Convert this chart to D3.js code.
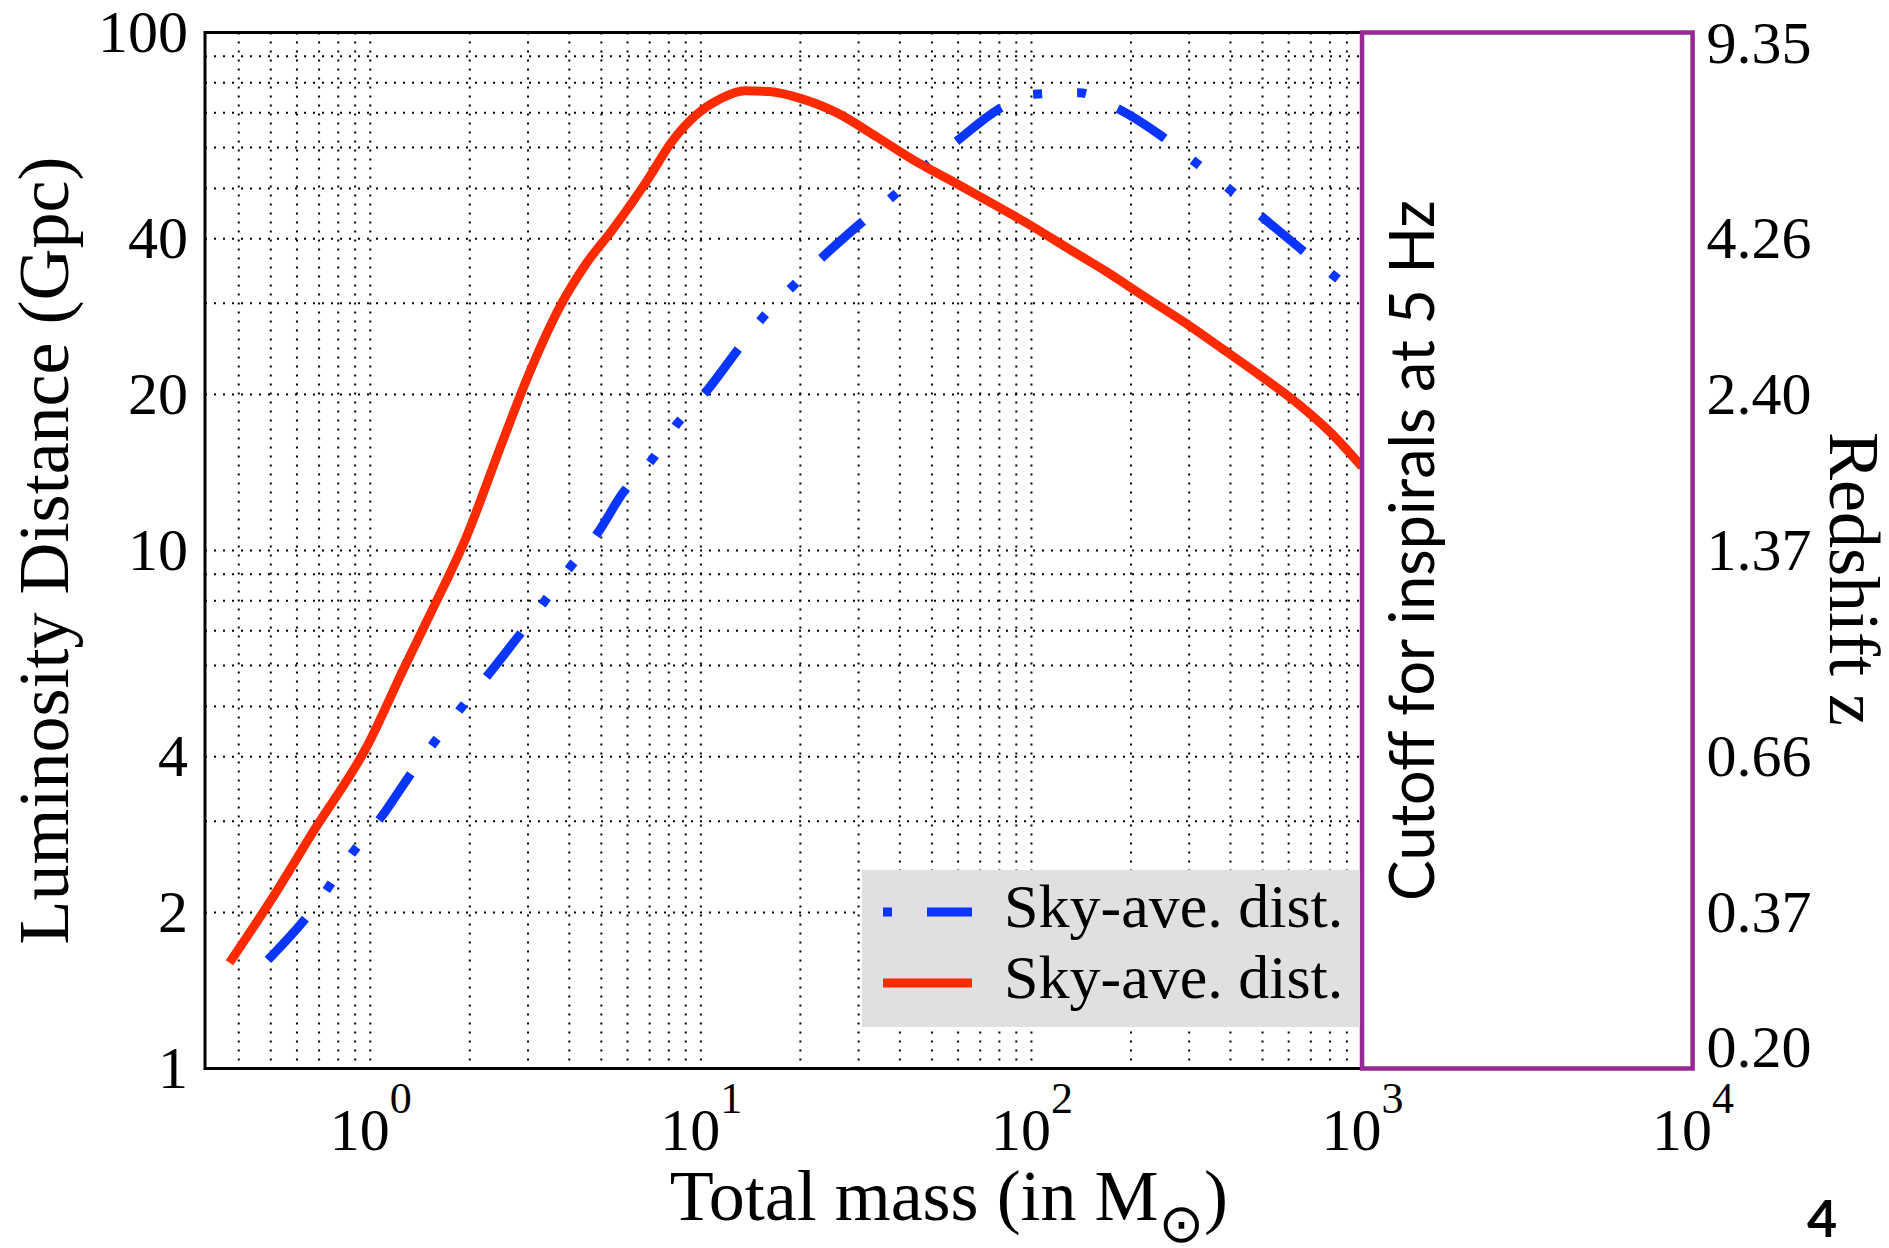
<!DOCTYPE html>
<html>
<head>
<meta charset="utf-8">
<script src="https://cdn.jsdelivr.net/npm/d3@7"></script>
<style>
  body { margin: 0; background: #fff; }
</style>
</head>
<body>
<div id="graph"></div>
<script>
// ---- data ----
const massTicks = [1, 10, 100, 1000, 10000];
const massTickExp = ["0", "1", "2", "3", "4"];
const distTicks = [1, 2, 4, 10, 20, 40, 100];
const redshiftLabels = ["0.20", "0.37", "0.66", "1.37", "2.40", "4.26", "9.35"];

// solid red curve
const redMass = [0.375, 0.5, 0.68, 0.98, 1.26, 1.52, 1.95, 2.5, 3.0, 3.75, 4.5, 5.4, 7.0, 8.1, 9.8,
  11.5, 13.6, 16.1, 20, 26, 34, 44, 58, 76, 99, 129, 169, 220, 287, 375, 490, 640, 810, 1000];
const redDist = [1.6, 2.11, 2.9, 4.2, 5.9, 7.55, 10.6, 16.1, 21.7, 29.6, 35.8, 41.6, 52.7, 61.1, 69.8,
  74.6, 77.2, 76.9, 74.6, 69.8, 62.9, 56.7, 51.5, 46.8, 42.5, 38.3, 34.5, 30.9, 27.7, 24.6, 21.8, 19.2, 16.8, 14.5];

// dash-dot blue curve
const blueMass = [0.49, 0.65, 0.9, 1.08, 1.32, 1.9, 2.28, 2.87, 4.05, 4.87, 5.8, 7.1, 8.5, 10.4, 12.8,
  15.2, 18.9, 23.4, 30, 37.7, 47, 60, 79, 101, 139, 178, 245, 307, 390, 483, 640, 800, 1000];
const blueDist = [1.62, 1.98, 2.65, 3.06, 3.69, 5.0, 5.77, 6.96, 9.34, 10.8, 12.9, 14.95, 17.6, 20.3, 24.2,
  27.9, 32.3, 36.9, 42.5, 48.0, 54.7, 62.0, 70.9, 76.0, 76.5, 71.9, 63.4, 56.7, 50.3, 44.8, 38.6, 34.4, 30.7];

const legendLabels = ["Sky-ave. dist.", "Sky-ave. dist."];
const cutoffMass = 1000;

// ---- layout ----
const W = 1889, H = 1248;
const plot = { left: 205, right: 1692.6, top: 32.5, bottom: 1068.5 };
const SERIF = "'Liberation Serif', 'Times New Roman', serif";
const SANS = "Lato, 'Open Sans', sans-serif";
const RED = "#ff2a00", BLUE = "#0a35ff", PURPLE = "#952a95";
const BLUE_DASH = "56,35,9,35,9,35";

const x = d3.scaleLog().domain([Math.pow(10, -0.5), 1e4]).range([plot.left, plot.right]);
const y = d3.scaleLog().domain([1, 100]).range([plot.bottom, plot.top]);
const xCut = x(cutoffMass);

const svg = d3.select("#graph").append("svg")
  .attr("width", W)
  .attr("height", H)
  .style("display", "block");

// minor/major grid values
const gridX = [];
[-1, 0, 1, 2].forEach(e => d3.range(1, 10).forEach(k => {
  const v = k * Math.pow(10, e);
  if (v > x.domain()[0] && v < cutoffMass) gridX.push(v);
}));
const gridY = [];
[0, 1].forEach(e => d3.range(1, 10).forEach(k => {
  const v = k * Math.pow(10, e);
  if (v > 1 && v < 100) gridY.push(v);
}));

const grid = svg.append("g")
  .attr("stroke", "#000")
  .attr("stroke-width", 2)
  .attr("stroke-dasharray", "2,7");

grid.selectAll("line.gx")
  .data(gridX)
  .enter()
  .append("line")
  .attr("class", "gx")
  .attr("x1", d => x(d)).attr("x2", d => x(d))
  .attr("y1", plot.top).attr("y2", plot.bottom);

grid.selectAll("line.gy")
  .data(gridY)
  .enter()
  .append("line")
  .attr("class", "gy")
  .attr("x1", plot.left).attr("x2", xCut)
  .attr("y1", d => y(d)).attr("y2", d => y(d));

// axes frame
svg.append("path")
  .attr("d", `M${xCut},${plot.top}H${plot.left}V${plot.bottom}H${xCut}`)
  .attr("fill", "none")
  .attr("stroke", "#000")
  .attr("stroke-width", 3);

// curves
const line = d3.line()
  .x(d => x(d[0]))
  .y(d => y(d[1]))
  .curve(d3.curveMonotoneX);

svg.append("path")
  .datum(d3.zip(blueMass, blueDist))
  .attr("d", line)
  .attr("fill", "none")
  .attr("stroke", BLUE)
  .attr("stroke-width", 9)
  .attr("stroke-dasharray", BLUE_DASH);

svg.append("path")
  .datum(d3.zip(redMass, redDist))
  .attr("d", line)
  .attr("fill", "none")
  .attr("stroke", RED)
  .attr("stroke-width", 9);

// cutoff box
svg.append("rect")
  .attr("x", xCut)
  .attr("y", plot.top)
  .attr("width", plot.right - xCut)
  .attr("height", plot.bottom - plot.top)
  .attr("fill", "#fff")
  .attr("stroke", PURPLE)
  .attr("stroke-width", 4.5);

svg.append("text")
  .attr("transform", `translate(${xCut + 72},${(plot.top + plot.bottom) / 2}) rotate(-90)`)
  .attr("text-anchor", "middle")
  .style("font-family", SANS)
  .style("font-size", "61px")
  .text("Cutoff for inspirals at 5 Hz");

// legend
const legend = svg.append("g");
legend.append("rect")
  .attr("x", 862).attr("y", 870)
  .attr("width", xCut - 2 - 862).attr("height", 157)
  .attr("fill", "#e0e0e0");

const legendRows = [
  { color: BLUE, dash: BLUE_DASH, offset: 135, y: 912 },
  { color: RED, dash: null, offset: 0, y: 983 }
];
legendRows.forEach((r, i) => {
  legend.append("line")
    .attr("x1", 883).attr("x2", 972)
    .attr("y1", r.y).attr("y2", r.y)
    .attr("stroke", r.color)
    .attr("stroke-width", 9)
    .attr("stroke-dasharray", r.dash)
    .attr("stroke-dashoffset", r.offset);
  legend.append("text")
    .attr("x", 1004)
    .attr("y", r.y + 15)
    .style("font-family", SERIF)
    .style("font-size", "62px")
    .text(legendLabels[i]);
});

// left axis
const yAxisLeft = svg.append("g")
  .attr("transform", `translate(${plot.left},0)`)
  .call(d3.axisLeft(y).tickValues(distTicks).tickSize(0).tickPadding(17).tickFormat(d3.format("d")));
yAxisLeft.select(".domain").remove();
yAxisLeft.selectAll("text")
  .style("font-family", SERIF)
  .style("font-size", "60px")
  .attr("fill", "#000");

// right axis (redshift); end labels are pulled inside the axis span
const yAxisRight = svg.append("g")
  .attr("transform", `translate(${plot.right},0)`)
  .call(d3.axisRight(y).tickValues(distTicks).tickSize(0).tickPadding(14)
    .tickFormat((d, i) => redshiftLabels[i]));
yAxisRight.select(".domain").remove();
yAxisRight.selectAll("text")
  .style("font-family", SERIF)
  .style("font-size", "60px")
  .attr("fill", "#000")
  .attr("y", (d, i) => i === 0 ? -21 : (i === distTicks.length - 1 ? 11 : 0));

// bottom axis with 10^n labels
const xAxis = svg.append("g")
  .attr("transform", `translate(0,${plot.bottom})`)
  .call(d3.axisBottom(x).tickValues(massTicks).tickSize(0).tickFormat(""));
xAxis.select(".domain").remove();
xAxis.selectAll(".tick text").each(function (d, i) {
  const t = d3.select(this)
    .attr("y", 81.5)
    .attr("dy", null)
    .attr("fill", "#000")
    .style("font-family", SERIF)
    .style("font-size", "60px");
  t.append("tspan").text("10");
  t.append("tspan")
    .attr("dy", -37)
    .style("font-size", "44px")
    .text(massTickExp[i]);
});

// axis titles
svg.append("text")
  .attr("transform", `translate(68,${(plot.top + plot.bottom) / 2}) rotate(-90)`)
  .attr("text-anchor", "middle")
  .style("font-family", SERIF)
  .style("font-size", "72px")
  .text("Luminosity Distance (Gpc)");

const xTitle = svg.append("text")
  .attr("x", (plot.left + plot.right) / 2)
  .attr("y", 1220)
  .attr("text-anchor", "middle")
  .style("font-family", SERIF)
  .style("font-size", "72px");
xTitle.append("tspan").text("Total mass (in M");
xTitle.append("tspan")
  .attr("dy", 22)
  .style("font-family", "'DejaVu Sans', sans-serif")
  .style("font-size", "54px")
  .text("\u2299");
xTitle.append("tspan")
  .attr("dy", -22)
  .text(")");

svg.append("text")
  .attr("transform", `translate(1830,579) rotate(90)`)
  .attr("text-anchor", "middle")
  .style("font-family", SERIF)
  .style("font-size", "72px")
  .text("Redshift z");

// page number
svg.append("text")
  .attr("x", 1822)
  .attr("y", 1237)
  .attr("text-anchor", "middle")
  .style("font-family", SANS)
  .style("font-weight", 700)
  .style("font-size", "52px")
  .text("4");
</script>
</body>
</html>
